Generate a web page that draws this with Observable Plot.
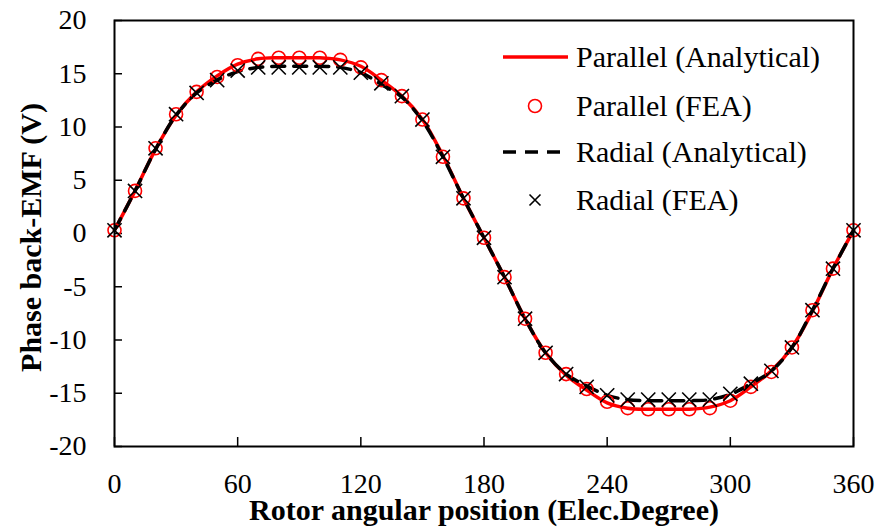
<!DOCTYPE html>
<html>
<head>
<meta charset="utf-8">
<script src="https://cdn.jsdelivr.net/npm/d3@7"></script>
<script src="https://cdn.jsdelivr.net/npm/@observablehq/plot@0.6"></script>
<style>
  html, body { margin: 0; padding: 0; background: #fff; }
  #wrap { position: relative; width: 879px; height: 529px; font-family: "Liberation Serif", "Times New Roman", serif; }
  #legend { position: absolute; left: 0; top: 0; width: 879px; height: 529px; pointer-events: none; }
</style>
</head>
<body>
<div id="wrap"></div>
<script>
// Rotor angular position (electrical degrees)
const angles = [0,10,20,30,40,50,60,70,80,90,100,110,120,130,140,150,160,170,180,190,200,210,220,230,240,250,260,270,280,290,300,310,320,330,340,350,360];

const parallelAnalytical = [0.3,4.0,7.9,11.1,13.3,14.8,15.9,16.4,16.5,16.5,16.5,16.3,15.7,14.4,12.9,10.7,7.3,3.3,-0.4,-4.1,-8.0,-11.2,-13.3,-14.7,-15.9,-16.4,-16.5,-16.5,-16.5,-16.3,-15.7,-14.4,-12.9,-10.7,-7.3,-3.3,0.3];
const parallelFEA = [0.3,4.0,8.0,11.2,13.3,14.7,15.8,16.4,16.5,16.5,16.5,16.3,15.6,14.4,12.9,10.7,7.2,3.3,-0.4,-4.1,-8.0,-11.2,-13.2,-14.6,-15.8,-16.4,-16.5,-16.5,-16.5,-16.4,-15.7,-14.4,-13.0,-10.7,-7.2,-3.3,0.3];
const radialAnalytical = [0.3,4.0,7.9,11.1,13.2,14.4,15.2,15.6,15.7,15.7,15.7,15.6,15.1,14.0,12.8,10.6,7.2,3.3,-0.4,-4.1,-8.0,-11.2,-13.2,-14.3,-15.2,-15.6,-15.7,-15.7,-15.7,-15.6,-15.1,-14.1,-12.9,-10.7,-7.2,-3.3,0.3];
const radialFEA = [0.3,4.0,8.0,11.2,13.2,14.4,15.3,15.6,15.6,15.6,15.6,15.6,15.1,14.1,12.9,10.7,7.2,3.3,-0.4,-4.1,-8.0,-11.2,-13.2,-14.4,-15.2,-15.6,-15.6,-15.6,-15.6,-15.6,-15.05,-14.1,-12.9,-10.7,-7.2,-3.3,0.3];

const xTicks = [0,60,120,180,240,300,360];
const yTicks = [-20,-15,-10,-5,0,5,10,15,20];
const legendLabels = ["Parallel (Analytical)","Parallel (FEA)","Radial (Analytical)","Radial (FEA)"];
const xTitle = "Rotor angular position (Elec.Degree)";
const yTitle = "Phase back-EMF (V)";

const mk = (vals) => angles.map((a, i) => ({x: a, y: vals[i]}));
const pA = mk(parallelAnalytical), pF = mk(parallelFEA), rA = mk(radialAnalytical), rF = mk(radialFEA);

const W = 879, H = 529, mL = 114, mR = 26, mT = 20, mB = 83;
const pw = W - mL - mR, ph = H - mT - mB;
const serif = "'Liberation Serif', 'Times New Roman', serif";

const chart = Plot.plot({
  width: W, height: H,
  marginLeft: mL, marginRight: mR, marginTop: mT, marginBottom: mB,
  style: {fontFamily: serif, fontSize: "28px", color: "#000", background: "#fff"},
  x: {domain: [0, 360]},
  y: {domain: [-20, 20]},
  marks: [
    Plot.ruleX(xTicks, {x: d => d, insetTop: ph - 9, stroke: "#000", strokeWidth: 1.5}),
    Plot.ruleY(yTicks, {y: d => d, insetRight: pw - 8, stroke: "#000", strokeWidth: 1.5}),
    Plot.axisX({ticks: xTicks, tickSize: 0, tickPadding: 27, label: null, fontSize: 28, fontFamily: serif, tickFormat: d => String(d)}),
    Plot.axisY({ticks: yTicks, tickSize: 0, tickPadding: 28, label: null, fontSize: 28, fontFamily: serif, tickFormat: d => String(d)}),
    Plot.line(pA, {x: "x", y: "y", stroke: "#ff0000", strokeWidth: 3.5, curve: "catmull-rom"}),
    Plot.line(rA, {x: "x", y: "y", stroke: "#000", strokeWidth: 3.5, strokeDasharray: "13,9", curve: "catmull-rom"}),
    Plot.dot(pF, {x: "x", y: "y", r: 6.5, stroke: "#ff0000", strokeWidth: 1.6, fill: "none"}),
    Plot.dot(rF, {x: "x", y: "y", r: 6.5, symbol: "times", stroke: "#000", strokeWidth: 1.6}),
    Plot.frame({stroke: "#000", strokeWidth: 2}),
    Plot.text([xTitle], {frameAnchor: "bottom", textAnchor: "middle", lineAnchor: "bottom", dy: 73, fontSize: 30, fontFamily: serif, fontWeight: "bold", fill: "#000"}),
    Plot.text([yTitle], {frameAnchor: "left", textAnchor: "middle", lineAnchor: "middle", rotate: -90, dx: 31 - mL, dy: 4, fontSize: 30, fontFamily: serif, fontWeight: "bold", fill: "#000"})
  ]
});

const wrap = document.getElementById("wrap");
wrap.appendChild(chart);

// Legend overlay (inside plot area, top right)
const ns = "http://www.w3.org/2000/svg";
const leg = document.createElementNS(ns, "svg");
leg.setAttribute("id", "legend");
leg.setAttribute("width", W); leg.setAttribute("height", H);
const rows = [57, 106, 152, 200];
const sx1 = 503, sx2 = 568, sc = 535, tx = 576;
legendLabels.forEach((lab, i) => {
  const y = rows[i];
  if (i === 0 || i === 2) {
    const l = document.createElementNS(ns, "line");
    l.setAttribute("x1", sx1); l.setAttribute("x2", sx2);
    l.setAttribute("y1", y); l.setAttribute("y2", y);
    l.setAttribute("stroke", i === 0 ? "#ff0000" : "#000");
    l.setAttribute("stroke-width", 3.5);
    if (i === 2) l.setAttribute("stroke-dasharray", "13,9");
    leg.appendChild(l);
  } else if (i === 1) {
    const c = document.createElementNS(ns, "circle");
    c.setAttribute("cx", sc); c.setAttribute("cy", y); c.setAttribute("r", 6.5);
    c.setAttribute("fill", "none"); c.setAttribute("stroke", "#ff0000"); c.setAttribute("stroke-width", 1.6);
    leg.appendChild(c);
  } else {
    const p = document.createElementNS(ns, "path");
    const s = 5.5;
    p.setAttribute("d", `M${sc-s},${y-s}L${sc+s},${y+s}M${sc-s},${y+s}L${sc+s},${y-s}`);
    p.setAttribute("stroke", "#000"); p.setAttribute("stroke-width", 1.6);
    leg.appendChild(p);
  }
  const t = document.createElementNS(ns, "text");
  t.setAttribute("x", tx); t.setAttribute("y", y);
  t.setAttribute("dy", "0.32em");
  t.setAttribute("font-size", 30);
  t.setAttribute("font-family", serif);
  t.setAttribute("fill", "#000");
  t.textContent = lab;
  leg.appendChild(t);
});
wrap.appendChild(leg);
</script>
</body>
</html>
